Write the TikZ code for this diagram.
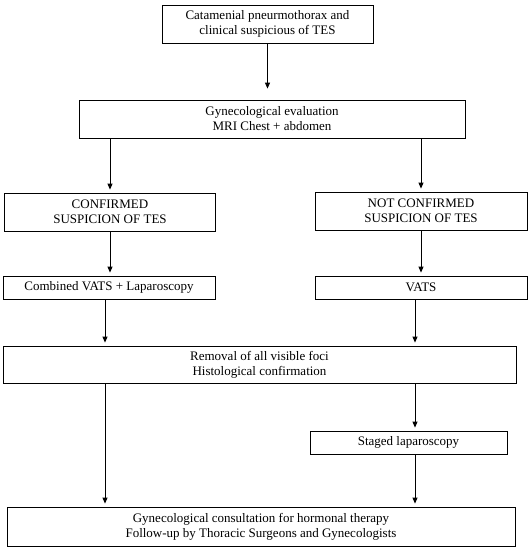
\documentclass[tikz,border=0pt]{standalone}
\usepackage{fontspec}
\setmainfont{Liberation Serif}
\usetikzlibrary{arrows.meta, positioning}

\begin{document}
\begin{tikzpicture}[
    x=1pt, y=-1pt,
    box/.style={draw, line width=0.8pt, align=center, inner sep=0pt, font=\fontsize{13}{15}\selectfont},
    flow/.style={-{Triangle[length=6pt,width=5pt]}, line width=0.8pt, shorten >=3pt},
]
    \useasboundingbox (0,0) rectangle (532,550);

    % Nodes
    \node[box, minimum width=211pt, minimum height=38pt] (pneumo) at (267.5,24) {Catamenial pneurmothorax and\\clinical suspicious of TES};
    \node[box, minimum width=386pt, minimum height=38pt] (gyneval) at (272,119) {Gynecological evaluation\\MRI Chest + abdomen};
    \node[box, minimum width=211pt, minimum height=38pt] (conf) at (110,212) {CONFIRMED\\SUSPICION OF TES};
    \node[box, minimum width=212pt, minimum height=38pt] (notconf) at (421,211) {NOT CONFIRMED\\SUSPICION OF TES};
    \node[box, minimum width=212pt, minimum height=23pt] (combined) at (109,287.5) {Combined VATS + Laparoscopy};
    \node[box, minimum width=212pt, minimum height=23pt] (vats) at (421,287.5) {VATS};
    \node[box, minimum width=513pt, minimum height=37pt] (removal) at (259.5,364.5) {Removal of all visible foci\\Histological confirmation};
    \node[box, minimum width=197pt, minimum height=23pt] (staged) at (408.5,442.5) {Staged laparoscopy};
    \node[box, minimum width=508pt, minimum height=39pt] (consult) at (261,526.5) {Gynecological consultation for hormonal therapy\\Follow-up by Thoracic Surgeons and Gynecologists};

    % Coordinates for the two columns
    \coordinate (lcol) at (105,0);
    \coordinate (rcol) at (415,0);

    % Connections
    \draw[flow, shorten >=11pt] (pneumo) -- (pneumo.south |- gyneval.north);
    \draw[flow] (gyneval.south -| conf.north) -- (conf.north);
    \draw[flow] (gyneval.south -| notconf.north) -- (notconf.north);
    \draw[flow] (conf) -- (conf.south |- combined.north);
    \draw[flow] (notconf) -- (vats);
    \draw[flow] (combined.south -| lcol) -- (removal.north -| lcol);
    \draw[flow] (vats.south -| rcol) -- (removal.north -| rcol);
    \draw[flow] (removal.south -| lcol) -- (consult.north -| lcol);
    \draw[flow] (removal.south -| rcol) -- (staged.north -| rcol);
    \draw[flow] (staged.south -| rcol) -- (consult.north -| rcol);

\end{tikzpicture}
\end{document}
